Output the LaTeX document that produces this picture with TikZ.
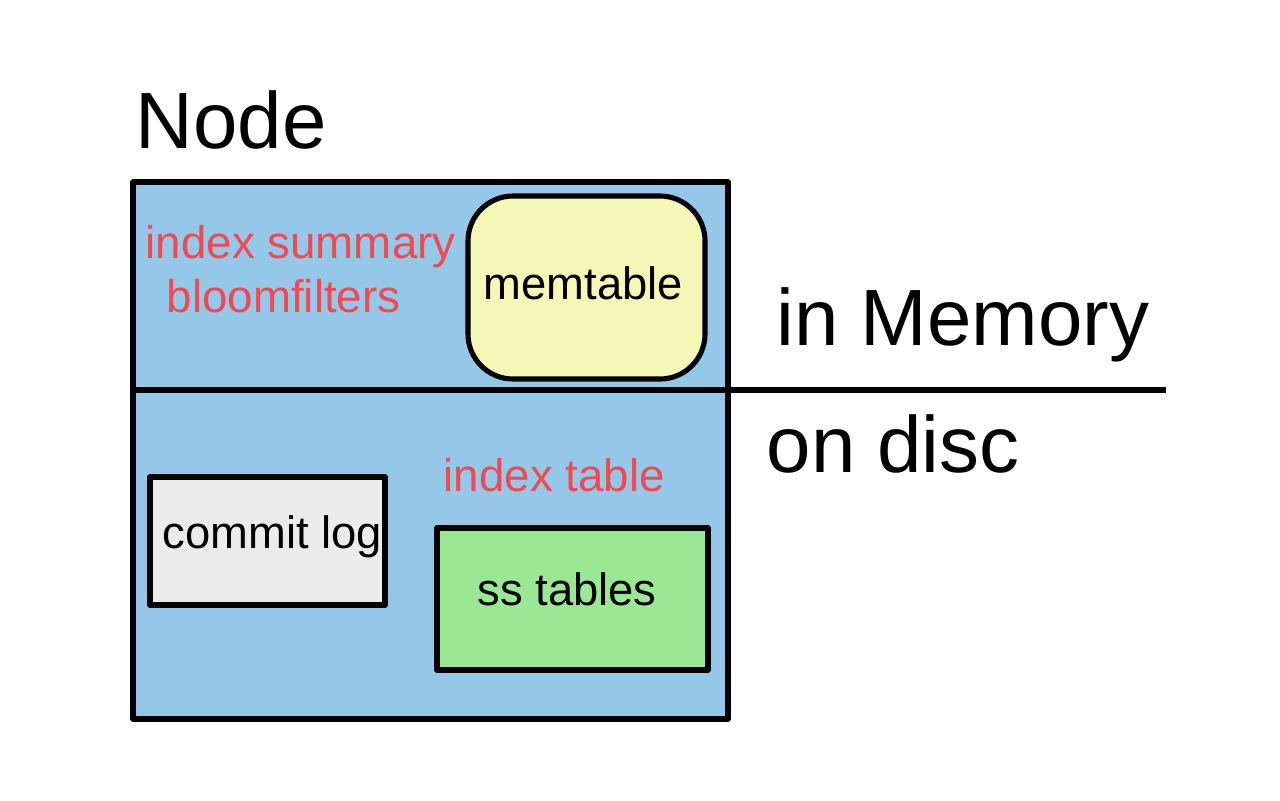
\documentclass[tikz,border=0pt]{standalone}
\usepackage{fontspec}
\setmainfont{Liberation Sans}
\definecolor{bluefill}{HTML}{95C8E8}
\definecolor{memfill}{HTML}{F4F7B5}
\definecolor{logfill}{HTML}{EBEBEB}
\definecolor{ssfill}{HTML}{9AE894}
\definecolor{redtext}{HTML}{F04A50}
\begin{document}
\begin{tikzpicture}[x=0.01cm,y=-0.01cm,
  frame/.style={draw=black,line width=1.45pt,line join=round},
  bigtext/.style={anchor=base west,inner sep=0pt,font=\fontsize{22.7pt}{26pt}\selectfont},
  redlabel/.style={anchor=base west,inner sep=0pt,text=redtext,font=\fontsize{13pt}{15pt}\selectfont},
  boxtext/.style={anchor=base west,inner sep=0pt,font=\fontsize{12.9pt}{15pt}\selectfont}]
\useasboundingbox (0,0) rectangle (1280,800);
% outer node box
\path[frame,fill=bluefill] (133,182) rectangle (728,719);
\coordinate (divL) at (133,390);
\coordinate (divR) at (1166,390);
\draw[frame] (divL) -- (divR);
% memtable
\path[frame,fill=memfill,rounded corners=0.45cm] (468,196) rectangle (705,379);
\node[boxtext] (mem) at (483,299) {memtable};
% commit log
\path[frame,fill=logfill] (150,477) rectangle (385,605);
\node[boxtext] (clog) at (162,548) {commit log};
% ss tables
\path[frame,fill=ssfill] (437,528) rectangle (708,670);
\node[boxtext] (ss) at (477,605) {ss tables};
% labels
\node[bigtext] (node) at (135,148) {Node};
\node[bigtext] (inmem) at (776,345) {in Memory};
\node[bigtext] (ondisc) at (766,472) {on disc};
\node[redlabel] (idxsum) at (145,258) {index summary};
\node[redlabel] (bloom) at (166,312) {bloomfilters};
\node[redlabel] (idxtab) at (443,491) {index table};
\end{tikzpicture}
\end{document}
